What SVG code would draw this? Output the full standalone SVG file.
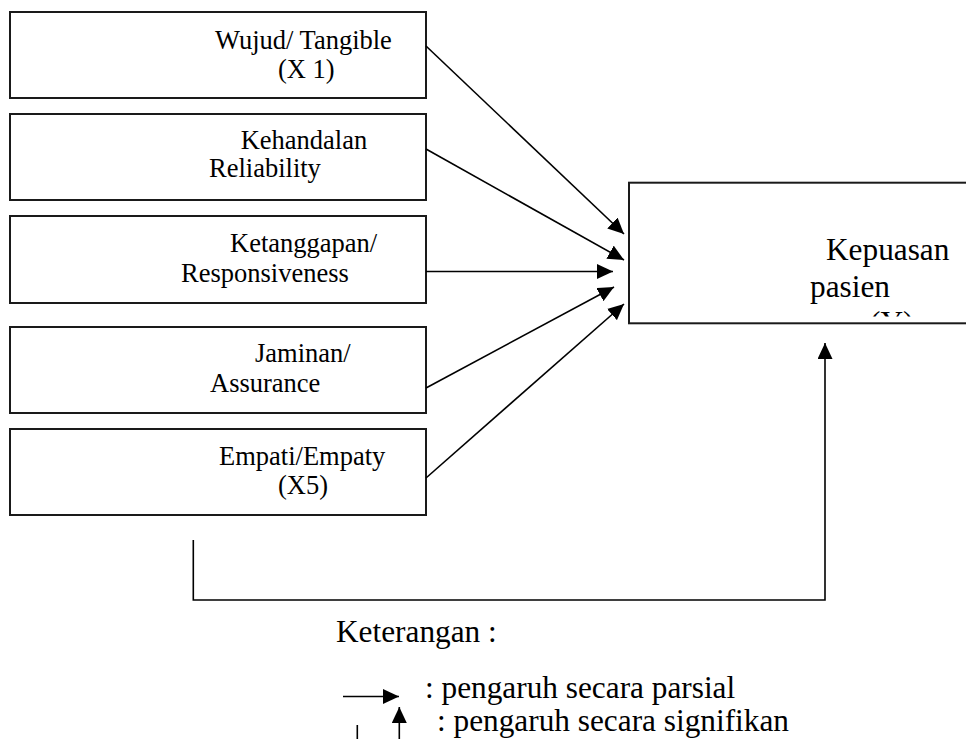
<svg xmlns="http://www.w3.org/2000/svg" width="966" height="739" viewBox="0 0 966 739">
<style>
.box{fill:#fff;stroke:#1a1a1a;stroke-width:2}
.t{font-family:"Liberation Serif","Times New Roman",serif;font-size:26.5px;fill:#000}
.tl{font-family:"Liberation Serif","Times New Roman",serif;font-size:31.3px;fill:#000}
.c{fill:none;stroke:#000;stroke-width:1.6}
</style>
<defs>
<marker id="ah" markerUnits="userSpaceOnUse" markerWidth="16" markerHeight="15" refX="16" refY="7.5" orient="auto">
<path d="M0,0 L16,7.5 L0,15 z" fill="#000"/>
</marker>
<clipPath id="yclip"><rect x="850" y="300" width="100" height="16.5"/></clipPath>
</defs>
<rect width="966" height="739" fill="#fff"/>
<g id="x1">
<rect class="box" x="10" y="12" width="416" height="86"/>
<text class="t" transform="matrix(1,0,0,1.07,215,49.3)">Wujud/ Tangible</text>
<text class="t" transform="matrix(1,0,0,1.07,278,77.5)">(X 1)</text>
</g>
<g id="x2">
<rect class="box" x="10" y="114" width="416" height="86"/>
<text class="t" transform="matrix(1,0,0,1.07,240.7,149.3)">Kehandalan</text>
<text class="t" transform="matrix(1,0,0,1.07,209,177.3)">Reliability</text>
</g>
<g id="x3">
<rect class="box" x="10" y="216" width="416" height="87"/>
<text class="t" transform="matrix(1,0,0,1.07,230,251.7)">Ketanggapan/</text>
<text class="t" transform="matrix(1,0,0,1.07,181,281.7)">Responsiveness</text>
</g>
<g id="x4">
<rect class="box" x="10" y="327" width="416" height="86"/>
<text class="t" transform="matrix(1,0,0,1.07,255,362.3)">Jaminan/</text>
<text class="t" transform="matrix(1,0,0,1.07,210,391.7)">Assurance</text>
</g>
<g id="x5">
<rect class="box" x="10" y="429" width="416" height="86"/>
<text class="t" transform="matrix(1,0,0,1.07,219,465)">Empati/Empaty</text>
<text class="t" transform="matrix(1,0,0,1.07,278,494)">(X5)</text>
</g>
<g id="y">
<rect class="box" x="629" y="182.7" width="345" height="140.6"/>
<text class="tl" x="826" y="260">Kepuasan</text>
<text class="tl" x="810" y="296.7">pasien</text>
<text class="tl" x="870" y="333" clip-path="url(#yclip)">(Y)</text>
</g>
<g id="connectors">
<line class="c" x1="426" y1="46" x2="624" y2="234" marker-end="url(#ah)"/>
<line class="c" x1="426" y1="149" x2="624" y2="260" marker-end="url(#ah)"/>
<line class="c" x1="426" y1="271.5" x2="613" y2="271.5" marker-end="url(#ah)"/>
<line class="c" x1="426" y1="388" x2="614" y2="287" marker-end="url(#ah)"/>
<line class="c" x1="426" y1="478" x2="624" y2="304" marker-end="url(#ah)"/>
<path class="c" d="M193.3,540 V600 H825 V343" marker-end="url(#ah)"/>
</g>
<g id="legend">
<text class="tl" x="336" y="641.5">Keterangan :</text>
<line class="c" x1="343" y1="696.5" x2="399" y2="696.5" marker-end="url(#ah)"/>
<text class="tl" x="425" y="698">: pengaruh secara parsial</text>
<line class="c" x1="357.3" y1="725" x2="357.3" y2="739"/>
<line class="c" x1="399.3" y1="739" x2="399.3" y2="707" marker-end="url(#ah)"/>
<text class="tl" x="437" y="731">: pengaruh secara signifikan</text>
</g>
</svg>
